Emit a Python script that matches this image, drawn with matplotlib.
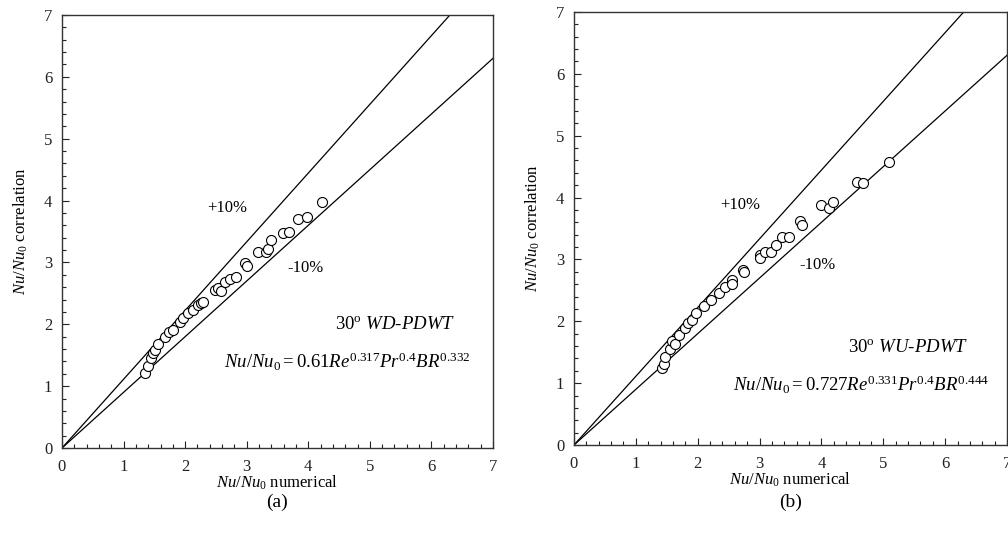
import matplotlib
matplotlib.use("Agg")
import matplotlib.pyplot as plt
import numpy as np
from matplotlib.ticker import MultipleLocator

plt.rcParams['font.family'] = ['Liberation Serif', 'DejaVu Serif']
plt.rcParams['mathtext.fontset'] = 'custom'
plt.rcParams['mathtext.rm'] = 'Liberation Serif'
plt.rcParams['mathtext.it'] = 'Liberation Serif:italic'
plt.rcParams['mathtext.bf'] = 'Liberation Serif:bold'

# Panel (a): 30° WD-PDWT
a_numerical = [1.35, 1.39, 1.44, 1.47, 1.51, 1.56, 1.68, 1.74, 1.81, 1.92, 1.97, 2.05,
               2.13, 2.21, 2.25, 2.29, 2.48, 2.54, 2.58, 2.65, 2.73, 2.82, 2.97, 3.00,
               3.19, 3.32, 3.34, 3.40, 3.59, 3.69, 3.84, 3.98, 4.22]
a_correlation = [1.22, 1.33, 1.45, 1.53, 1.59, 1.68, 1.80, 1.88, 1.91, 2.04, 2.10, 2.18,
                 2.23, 2.31, 2.34, 2.36, 2.55, 2.58, 2.54, 2.69, 2.74, 2.77, 2.99, 2.94,
                 3.17, 3.17, 3.22, 3.36, 3.47, 3.49, 3.71, 3.73, 3.97]

# Panel (b): 30° WU-PDWT
b_numerical = [1.42, 1.45, 1.47, 1.55, 1.59, 1.63, 1.70, 1.79, 1.84, 1.90, 1.98, 2.10,
               2.22, 2.35, 2.44, 2.55, 2.56, 2.74, 2.75, 3.00, 3.00, 3.09, 3.18, 3.26,
               3.36, 3.47, 3.65, 3.69, 4.00, 4.12, 4.19, 4.57, 4.67, 5.09]
b_correlation = [1.24, 1.31, 1.42, 1.56, 1.68, 1.64, 1.78, 1.89, 1.97, 2.02, 2.13, 2.25,
                 2.35, 2.46, 2.56, 2.67, 2.61, 2.83, 2.80, 3.07, 3.03, 3.12, 3.12, 3.23,
                 3.37, 3.36, 3.62, 3.55, 3.88, 3.83, 3.93, 4.25, 4.23, 4.58]

axis_ticks = [0, 1, 2, 3, 4, 5, 6, 7]
upper_factor = 1 / 0.9
lower_factor = 0.9

fig = plt.figure(figsize=(10.08, 5.38), dpi=100)
ax1 = fig.add_axes([62/1008, 1-448/538, 431/1008, 433/538])
ax2 = fig.add_axes([574/1008, 1-445/538, 433/1008, 433/538])

panels = [
    (ax1, a_numerical, a_correlation, '(a)',
     (2.68, 3.88), (3.96, 2.91),
     (5.41, 1.99), r'30$^{\rm o}$ $\it{WD}$-$\it{PDWT}$',
     (4.64, 1.39), r'$\mathit{Nu/Nu}_0 = 0.61\mathit{Re}^{0.317}\mathit{Pr}^{0.4}\mathit{BR}^{0.332}$'),
    (ax2, b_numerical, b_correlation, '(b)',
     (2.68, 3.88), (3.94, 2.91),
     (5.40, 1.57), r'30$^{\rm o}$ $\it{WU}$-$\it{PDWT}$',
     (4.65, 0.97), r'$\mathit{Nu/Nu}_0 = 0.727\mathit{Re}^{0.331}\mathit{Pr}^{0.4}\mathit{BR}^{0.444}$'),
]

xl = np.array([0, 7])
for ax, xn, yc, tag, p10, m10, tpos, ttxt, epos, etxt in panels:
    ax.plot(xl, xl * upper_factor, color='black', lw=0.9)
    ax.plot(xl, xl * lower_factor, color='black', lw=0.9)
    ax.plot(xn, yc, 'o', mfc='white', mec='black', ms=7.2, mew=0.8, ls='none')
    ax.set_xlim(0, 7)
    ax.set_ylim(0, 7)
    ax.set_xticks(axis_ticks)
    ax.set_yticks(axis_ticks)
    ax.xaxis.set_minor_locator(MultipleLocator(0.2))
    ax.yaxis.set_minor_locator(MultipleLocator(0.2))
    ax.tick_params(which='both', direction='in', top=False, right=False,
                   labelsize=12, width=0.8, colors='#222222')
    ax.tick_params(which='major', length=5, pad=8)
    ax.tick_params(axis='y', which='major', pad=7)
    ax.tick_params(which='minor', length=3)
    for s in ax.spines.values():
        s.set_linewidth(1.0)
        s.set_color('#333333')
    ax.set_xlabel(r'$\mathit{Nu/Nu}_0$ numerical', fontsize=12, labelpad=-1)
    ax.set_ylabel(r'$\mathit{Nu/Nu}_0$ correlation', fontsize=12, labelpad=10)
    ax.text(*p10, '+10%', fontsize=12, ha='center', va='center')
    ax.text(*m10, '-10%', fontsize=12, ha='center', va='center')
    ax.text(*tpos, ttxt, fontsize=13.5, ha='center', va='center')
    ax.text(*epos, etxt, fontsize=13.5, ha='center', va='center')
    pos = ax.get_position()
    fig.text(pos.x0 + pos.width / 2, 1 - 502/538, tag, fontsize=14,
             ha='center', va='center')

fig.savefig('out.png', dpi=100)
